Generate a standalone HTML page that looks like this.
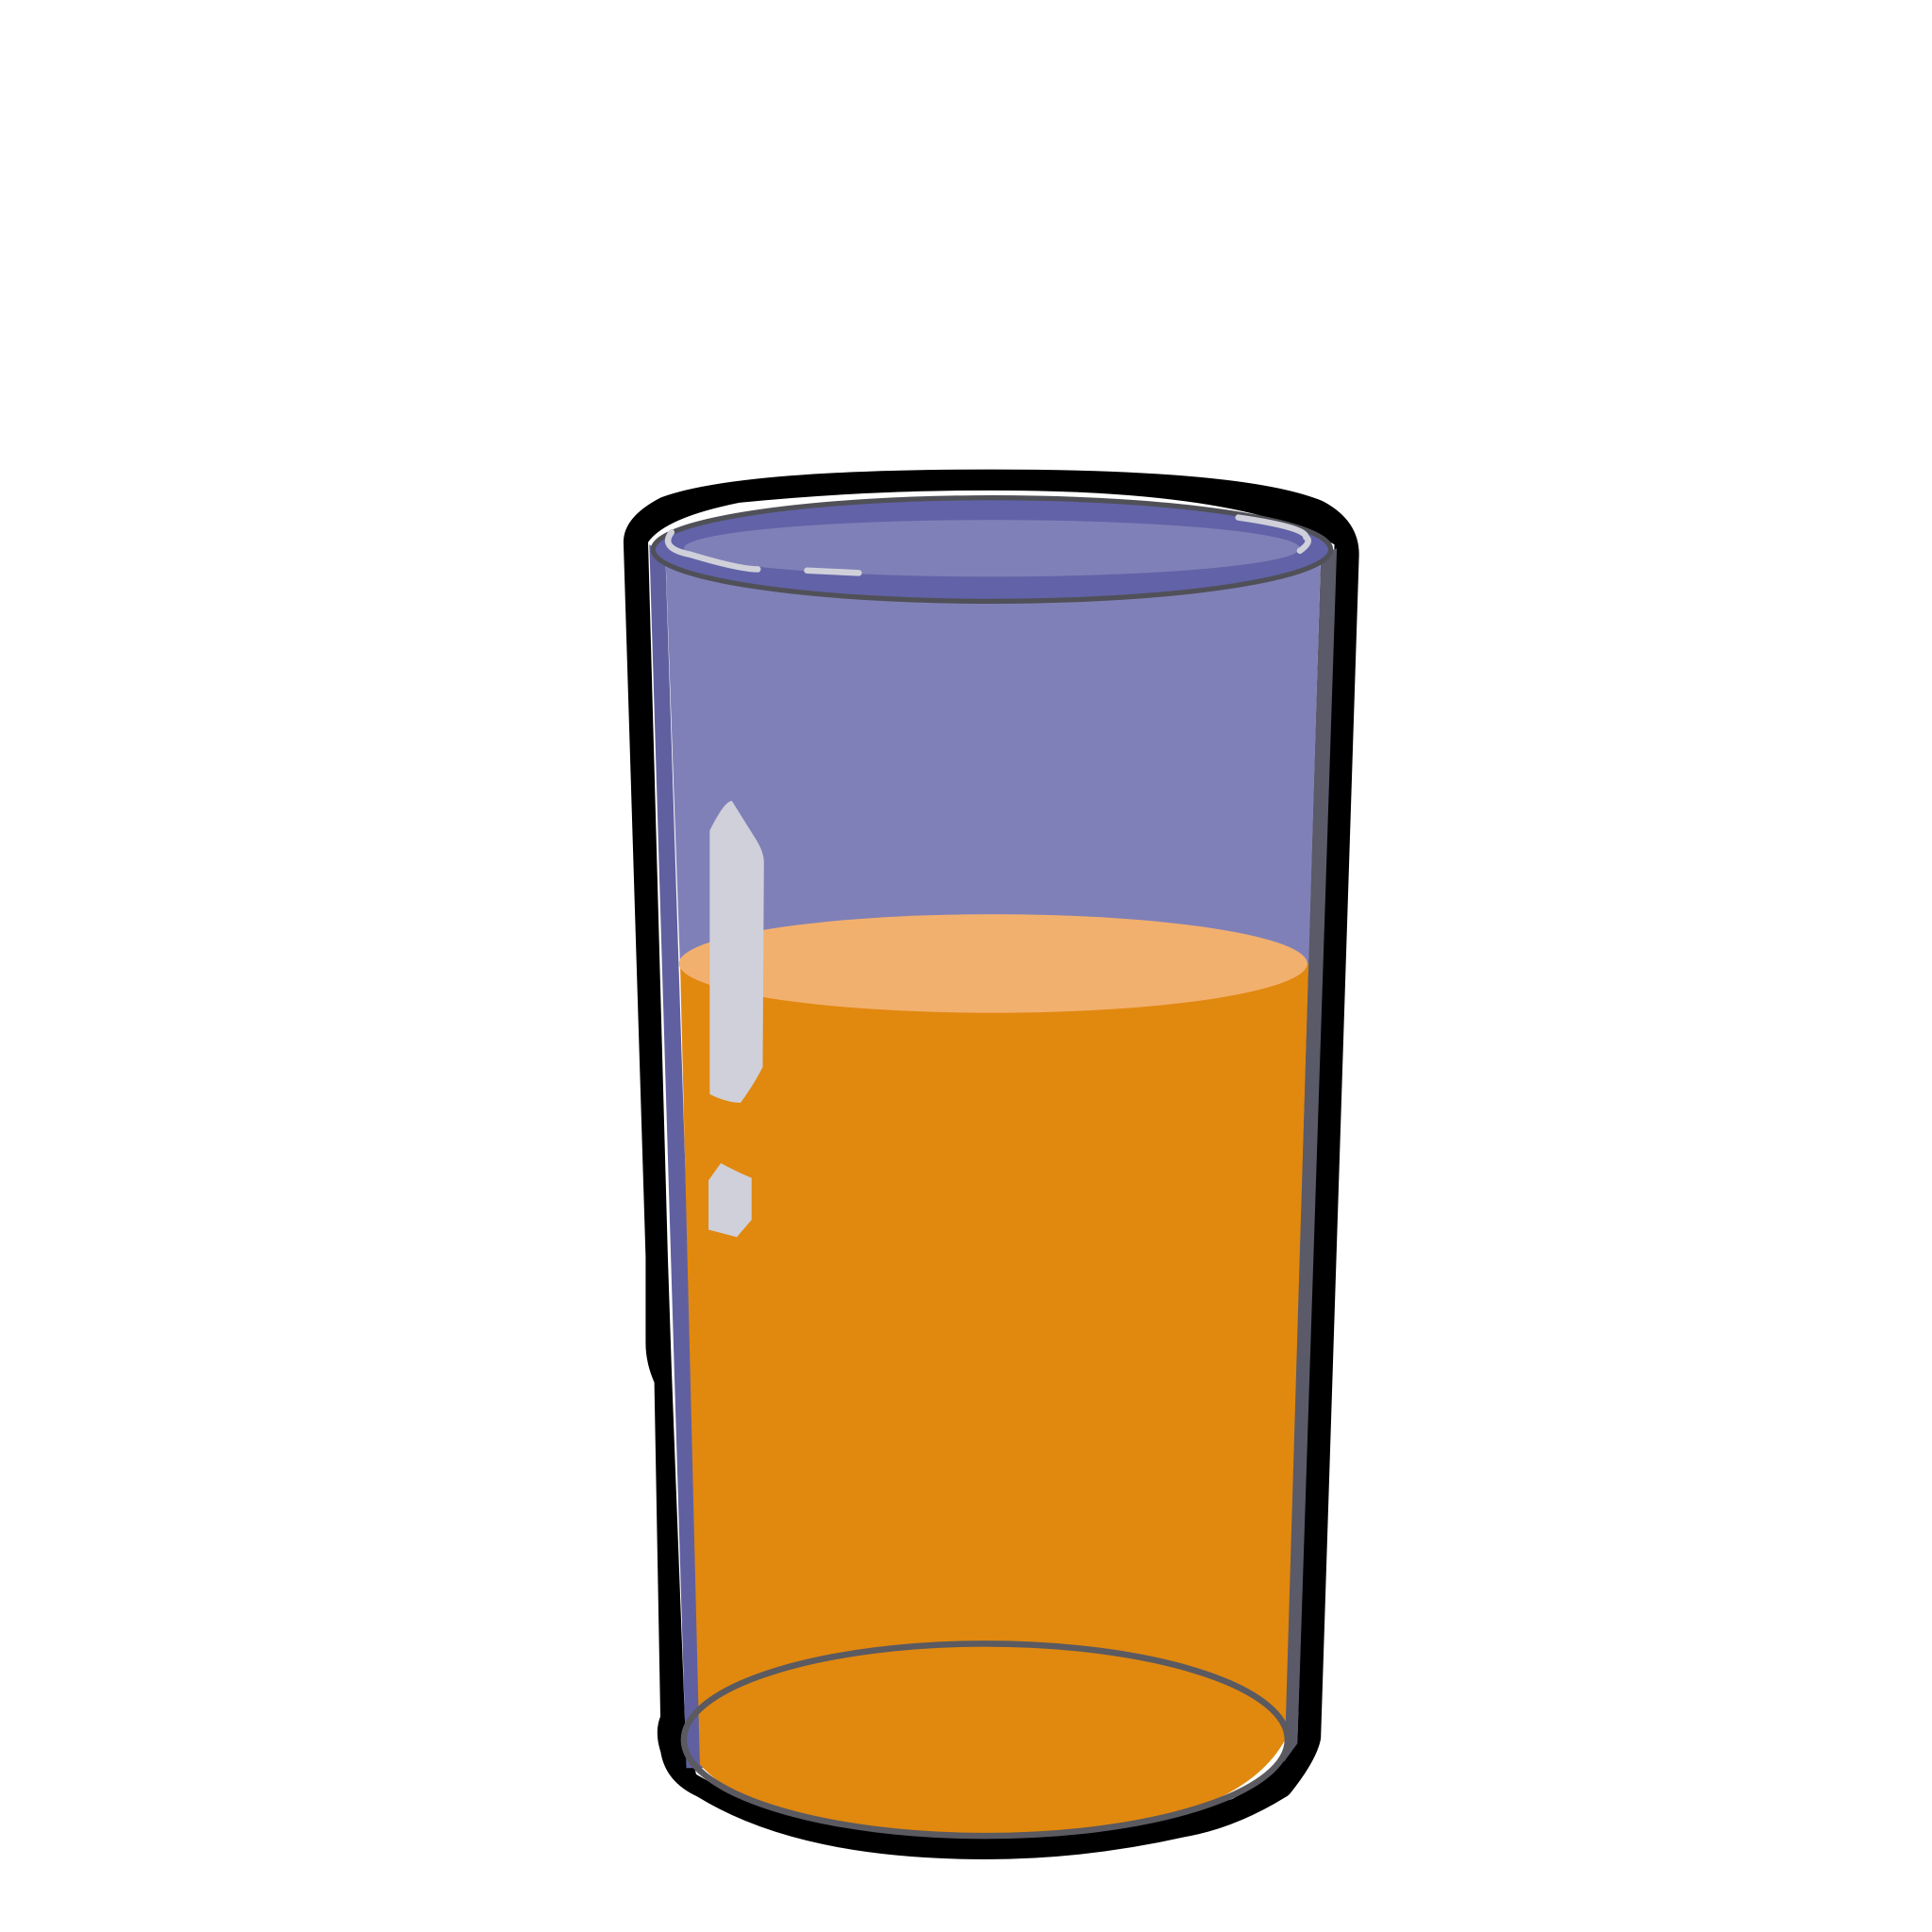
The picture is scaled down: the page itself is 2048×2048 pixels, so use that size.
<!DOCTYPE html>
<html><head><meta charset="utf-8"><style>html,body{margin:0;padding:0;background:#fff}svg{display:block}</style></head>
<body>
<svg width="2048" height="2048" viewBox="0 0 1568 1568" xmlns="http://www.w3.org/2000/svg">
  <!-- black outer outline -->
  <path d="M515,440 Q515,425 540,412 Q600,390 805,390 Q1010,390 1070,415 Q1094,428 1094,450 L1063,1410 Q1060,1425 1040,1450 Q1000,1475 960,1482 Q880,1500 800,1500 Q650,1500 570,1450 Q548,1440 545,1420 Q540,1405 545,1395 L540,1120 Q533,1105 533,1090 L533,1020 Z" fill="#000" stroke="#000" stroke-width="18" stroke-linejoin="round"/>
  <!-- white inner -->
  <path d="M526,440 Q540,420 600,408 Q700,398 805,398 Q1010,398 1083,442 L1053,1412 Q1040,1440 1000,1460 Q900,1492 800,1492 Q650,1490 565,1440 L556,1400 L545,1110 L542,1020 Z" fill="#fff"/>
  <!-- left wall band -->
  <path d="M527,442 L540,450 L572,1435 L557,1435 Z" fill="#6060a0"/>
  <!-- right wall band -->
  <path d="M1072,450 L1085,445 L1053,1415 L1042,1430 Z" fill="#5a5a68"/>
  <!-- upper blue fill -->
  <path d="M540,448 L1072,448 L1062,785 L552,785 Z" fill="#8080b8"/>
  <!-- orange liquid -->
  <path d="M552,782 L1062,782 L1043,1412 Q1000,1490 800,1490 Q620,1490 568,1432 Z" fill="#e1880f"/>
  <ellipse cx="806" cy="782" rx="255" ry="40" fill="#f2b06e"/>
  <!-- bottom ellipse -->
  <ellipse cx="800" cy="1412" rx="245" ry="78" fill="none" stroke="#5a5a60" stroke-width="5"/>
  <!-- rim -->
  <ellipse cx="805" cy="446" rx="275" ry="42" fill="#6262a8" stroke="#505058" stroke-width="4"/>
  <ellipse cx="805" cy="445" rx="250" ry="23" fill="#8080b8"/>
  <path d="M545,432 Q535,445 560,450 Q600,462 615,462" fill="none" stroke="#cfd0da" stroke-width="5" stroke-linecap="round"/>
  <path d="M1005,420 Q1060,428 1060,436 Q1065,440 1055,447" fill="none" stroke="#cfd0da" stroke-width="5" stroke-linecap="round"/>
  <path d="M655,463 L697,465" stroke="#cfd0da" stroke-width="5" stroke-linecap="round"/>
  <!-- highlights -->
  <path d="M576,674 Q588,650 594,650 L614,682 Q620,692 620,700 L619,866 Q612,880 601,895 Q590,895 576,888 Z" fill="#cfd0da"/>
  <path d="M575,958 L585,944 Q598,951 610,956 L610,990 L598,1004 L575,998 Z" fill="#cfd0da"/>
</svg>
</body></html>
